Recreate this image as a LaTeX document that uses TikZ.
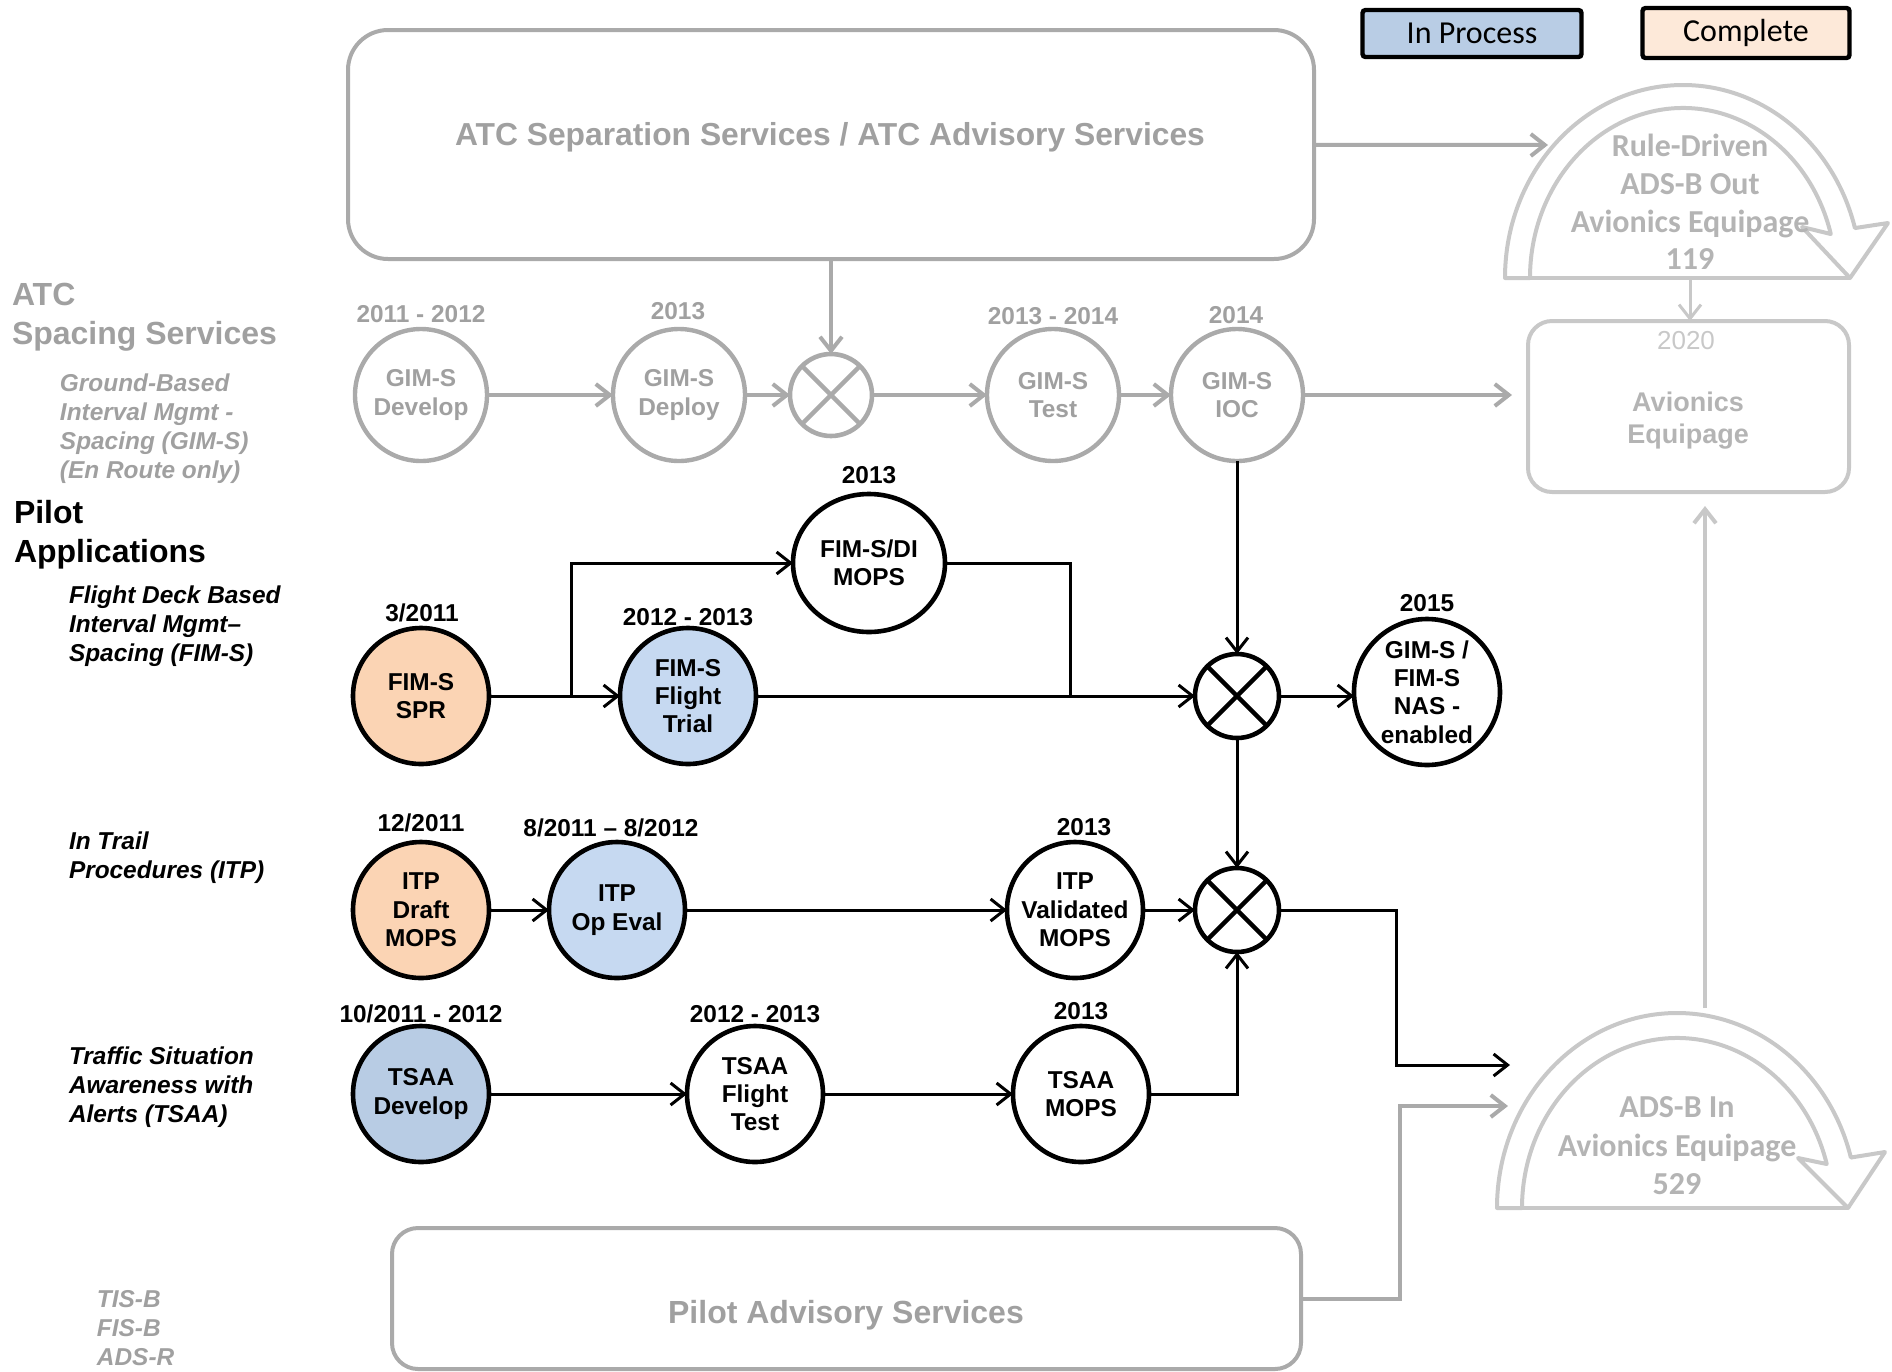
\documentclass[tikz,border=0pt]{standalone}
\usepackage{fontspec}
\setmainfont{Liberation Sans}
\newfontfamily\carlito{Carlito}
\usetikzlibrary{arrows.meta,shapes.geometric,calc}
\definecolor{gline}{RGB}{170,170,170}
\definecolor{gtext}{RGB}{160,160,160}
\definecolor{lline}{RGB}{200,200,200}
\definecolor{ltext}{RGB}{180,180,180}
\definecolor{bluefill}{RGB}{198,217,241}
\definecolor{bluedark}{RGB}{184,204,228}
\definecolor{peach}{RGB}{251,212,180}
\definecolor{legpeach}{RGB}{253,233,217}
\definecolor{legblue}{RGB}{185,205,229}
\begin{document}
\begin{tikzpicture}[x=0.5pt,y=-0.5pt,
  every node/.style={inner sep=0pt,outer sep=0pt},
  ntxt/.style={font=\fontsize{12.2}{14.2}\selectfont\bfseries,align=center},
  bcirc/.style={circle,draw=black,line width=2.3pt,fill=white,minimum size=68pt,ntxt},
  gcirc/.style={circle,draw=gline,line width=2.2pt,fill=white,minimum size=66pt,ntxt,text=gtext},
  xmk/.style={circle,draw=#1,line width=2.3pt,minimum size=42pt,fill=white,
    path picture={\draw[#1,line width=2.2pt] (path picture bounding box.north west)--(path picture bounding box.south east)
      (path picture bounding box.north east)--(path picture bounding box.south west);}},
  yrlab/.style={font=\fontsize{12.2}{14}\selectfont\bfseries},
  blkcon/.style={draw=black,line width=1.5pt},
  grycon/.style={draw=gline,line width=2pt},
  ltcon/.style={draw=lline,line width=2pt},
  arrw/.style={-{Straight Barb[length=7pt,width=11pt]}},
  lblbig/.style={anchor=west,align=left,font=\fontsize{16}{19.5}\selectfont\bfseries},
  lblsub/.style={anchor=west,align=left,font=\fontsize{12.2}{14.5}\selectfont\bfseries\itshape},
  legbox/.style={draw=black,line width=2.2pt,rounded corners=1.5pt,font=\carlito\fontsize{16}{18}\selectfont}
]
\useasboundingbox (0,0) rectangle (1892,1372);

% legend
\node[legbox,fill=legblue,minimum width=109.5pt,minimum height=23.5pt] (legip) at (1472,33.5) {In Process};
\node[legbox,fill=legpeach,minimum width=103.5pt,minimum height=25pt] (legco) at (1746,33) {Complete};

% big boxes
\node[draw=gline,line width=2pt,rounded corners=20pt,minimum width=483pt,minimum height=114.5pt] (atc) at (831,144.5) {};
\node[font=\fontsize{15.9}{18}\selectfont\bfseries,text=gtext] (atct) at (830,137) {ATC Separation Services / ATC Advisory Services};
\node[draw=gline,line width=2pt,rounded corners=13pt,minimum width=454.5pt,minimum height=70.5pt] (pas) at (846.5,1298.5) {};
\node[font=\fontsize{16}{18}\selectfont\bfseries,text=gtext] (past) at (846,1315) {Pilot Advisory Services};
\node[draw=lline,line width=2pt,rounded corners=12pt,minimum width=160.5pt,minimum height=85.5pt] (b2020) at (1688.5,406.5) {};
\node[font=\fontsize{13}{15}\selectfont,text=lline] (t2020) at (1686,341) {2020};
\node[font=\fontsize{13.5}{16}\selectfont\bfseries,text=ltext,align=center] (tavi) at (1688,421) {Avionics\\Equipage};

% curved arrows
\begin{scope}[shift={(1683,278)}]
\draw[lline,line width=2pt,line join=round,fill=white] (-178,0) arc[start angle=180,end angle=345,x radius=178,y radius=193]
  -- (205,-55) -- (167,0) -- (119,-51) -- (345:153 and 170)
  arc[start angle=345,end angle=180,x radius=153,y radius=170] -- cycle;
\draw[lline,line width=2pt] (-178,0) -- (167,0);
\end{scope}
\begin{scope}[shift={(1677,1208)}]
\draw[lline,line width=2pt,line join=round,fill=white] (-180,0) arc[start angle=180,end angle=345,x radius=180,y radius=195]
  -- (208,-56) -- (171,0) -- (121,-50) -- (345:155 and 170)
  arc[start angle=345,end angle=180,x radius=155,y radius=170] -- cycle;
\draw[lline,line width=2pt] (-180,0) -- (171,0);
\end{scope}
\node[font=\carlito\fontsize{16}{18.8}\selectfont\bfseries,text=ltext,align=center] (rdt) at (1690,202) {Rule-Driven\\ADS-B Out\\Avionics Equipage\\119};
\node[font=\carlito\fontsize{16}{19.2}\selectfont\bfseries,text=ltext,align=center] (adt) at (1677,1146) {ADS-B In\\Avionics Equipage\\529};

% left labels
\node[lblbig,text=gtext] (latc) at (12,317.5) {ATC\\Spacing Services};
\node[lblsub,text=gtext] (lgim) at (60,428.5) {Ground-Based\\Interval Mgmt -\\Spacing (GIM-S)\\(En Route only)};
\node[lblbig] (lpil) at (14,534.5) {Pilot\\Applications};
\node[lblsub] (lfim) at (69,626) {Flight Deck Based\\Interval Mgmt--\\Spacing (FIM-S)};
\node[lblsub] (litp) at (69,857.5) {In Trail\\Procedures (ITP)};
\node[lblsub] (ltsaa) at (69,1087) {Traffic Situation\\Awareness with\\Alerts (TSAA)};
\node[lblsub,text=gtext] (ltis) at (97,1328) {TIS-B\\FIS-B\\ADS-R};

% gray row
\node[gcirc] (gdev) at (421,395) {GIM-S\\Develop};
\node[gcirc] (gdep) at (679,395) {GIM-S\\Deploy};
\node[xmk=gline,minimum size=41pt] (xtop) at (831,395) {};
\node[gcirc] (gtest) at (1053,395) {GIM-S\\Test};
\node[gcirc] (gioc) at (1237,395) {GIM-S\\IOC};
\node[yrlab,text=gtext] (ygdev) at (421,314) {2011 - 2012};
\node[yrlab,text=gtext] (ygdep) at (678,311) {2013};
\node[yrlab,text=gtext] (ygtest) at (1053,316) {2013 - 2014};
\node[yrlab,text=gtext] (ygioc) at (1236,315) {2014};

% black nodes
\node[bcirc,fill=peach] (spr) at (421,696) {FIM-S\\SPR};
\node[bcirc,fill=bluefill] (fft) at (688,696) {FIM-S\\Flight\\Trial};
\node[ellipse,draw=black,line width=2.3pt,fill=white,minimum width=76pt,minimum height=69pt,ntxt] (fdi) at (869,563) {FIM-S/DI\\MOPS};
\node[xmk=black] (xmid) at (1237,696) {};
\node[bcirc,minimum size=73pt] (nas) at (1427,692) {GIM-S /\\FIM-S\\NAS -\\enabled};
\node[bcirc,fill=peach] (itpd) at (421,910) {ITP\\Draft\\MOPS};
\node[bcirc,fill=bluefill] (itpo) at (617,910) {ITP\\Op Eval};
\node[bcirc] (itpv) at (1075,910) {ITP\\Validated\\MOPS};
\node[xmk=black] (xlow) at (1237,910) {};
\node[bcirc,fill=bluedark] (tdev) at (421,1094) {TSAA\\Develop};
\node[bcirc] (tft) at (755,1094) {TSAA\\Flight\\Test};
\node[bcirc] (tmops) at (1081,1094) {TSAA\\MOPS};

\node[yrlab] (yspr) at (422,613) {3/2011};
\node[yrlab] (yfft) at (688,617) {2012 - 2013};
\node[yrlab] (yfdi) at (869,475) {2013};
\node[yrlab] (ynas) at (1427,603) {2015};
\node[yrlab] (yitpd) at (421,823) {12/2011};
\node[yrlab] (yitpo) at (611,828) {8/2011 -- 8/2012};
\node[yrlab] (yitpv) at (1084,827) {2013};
\node[yrlab] (ytdev) at (421,1014) {10/2011 - 2012};
\node[yrlab] (ytft) at (755,1014) {2012 - 2013};
\node[yrlab] (ytmops) at (1081,1011) {2013};

% gray connectors
\draw[grycon,arrw] (gdev) -- (gdep);
\draw[grycon,arrw] (gdep) -- (xtop);
\draw[grycon,arrw] (xtop) -- (gtest);
\draw[grycon,arrw] (gtest) -- (gioc);
\draw[grycon,arrw,shorten >=8pt] (gioc) -- (gioc -| b2020.west);
\draw[grycon,arrw] (atc) -- (xtop);
\coordinate (rdin) at (1548,145);
\draw[grycon,arrw] (atc) -- (rdin);
\coordinate (rdb) at (1690,278);
\draw[ltcon,line width=1.5pt,arrw] (rdb) -- (rdb |- b2020.north);
\coordinate (adsb) at (1705,1008);
\draw[ltcon,arrw,shorten >=7pt] (adsb) -- (adsb |- b2020.south);
\coordinate (k2) at (1400,1106);
\coordinate (inB) at (1508,1106);
\draw[grycon,arrw] (pas) -| (k2) -- (inB);

% black connectors
\draw[blkcon,arrw] (spr) -- (fft);
\coordinate (br) at (571,696);
\draw[blkcon,arrw] (br) |- (fdi);
\coordinate (jn) at (1070,696);
\draw[blkcon] (fdi) -| (jn);
\draw[blkcon,arrw] (fft) -- (xmid);
\draw[blkcon,arrw] (gioc) -- (xmid);
\draw[blkcon,arrw] (xmid) -- (xmid -| nas.west);
\draw[blkcon,arrw] (xmid) -- (xlow);
\draw[blkcon,arrw] (itpd) -- (itpo);
\draw[blkcon,arrw] (itpo) -- (itpv);
\draw[blkcon,arrw] (itpv) -- (xlow);
\draw[blkcon,arrw] (tdev) -- (tft);
\draw[blkcon,arrw] (tft) -- (tmops);
\draw[blkcon,arrw] (tmops) -| (xlow);
\coordinate (k1) at (1396,1065);
\coordinate (inA) at (1510,1065);
\draw[blkcon,arrw] (xlow) -| (k1) -- (inA);
\end{tikzpicture}
\end{document}
